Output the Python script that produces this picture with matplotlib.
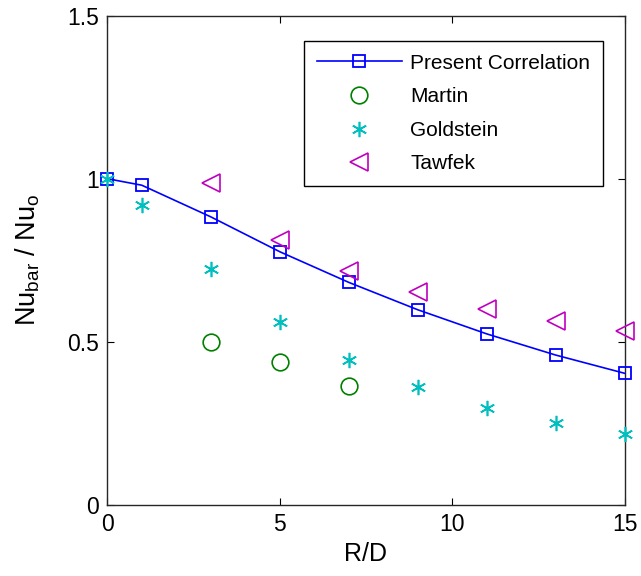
import matplotlib
matplotlib.use("Agg")
import matplotlib.pyplot as plt

plt.rcParams['font.family'] = ['Liberation Sans', 'DejaVu Sans']
plt.rcParams['mathtext.default'] = 'regular'

# Data
x_present = [0, 1, 3, 5, 7, 9, 11, 13, 15]
y_present = [1.0, 0.98, 0.883, 0.776, 0.682, 0.598, 0.524, 0.459, 0.403]

x_martin = [3, 5, 7]
y_martin = [0.498, 0.437, 0.364]

x_goldstein = [0, 1, 3, 5, 7, 9, 11, 13, 15]
y_goldstein = [1.0, 0.919, 0.723, 0.559, 0.444, 0.360, 0.296, 0.252, 0.216]

x_tawfek = [3, 5, 7, 9, 11, 13, 15]
y_tawfek = [0.986, 0.812, 0.717, 0.652, 0.601, 0.564, 0.534]

x_ticks = [0, 5, 10, 15]
y_ticks = [0, 0.5, 1, 1.5]
y_ticklabels = ['0', '0.5', '1', '1.5']

fig = plt.figure(figsize=(6.41, 5.76), dpi=100)
ax = fig.add_axes([107.3/641, 1-504.7/576, 517.4/641, 489/576])

ax.plot(x_present, y_present, color='#0000ff', lw=1.2, marker='s', ms=9,
        mfc='none', mec='#0000ff', mew=1.3, label='Present Correlation',
        clip_on=False, zorder=3)
ax.plot(x_martin, y_martin, ls='none', marker='o', ms=12, mfc='none',
        mec='#008000', mew=1.2, label='Martin', clip_on=False, zorder=3)
ax.plot(x_goldstein, y_goldstein, ls='none', marker=(6, 2, 0), ms=11,
        mec='#00bfbf', color='#00bfbf', mew=1.2, label='Goldstein',
        clip_on=False, zorder=4)
ax.plot(x_tawfek, y_tawfek, ls='none', marker='<', ms=13, mfc='none',
        mec='#bf00bf', mew=1.2, label='Tawfek', clip_on=False, zorder=3)

ax.set_xlim(0, 15)
ax.set_ylim(0, 1.5)
ax.set_xticks(x_ticks)
ax.set_yticks(y_ticks)
ax.set_yticklabels(y_ticklabels)
ax.tick_params(direction='in', length=5, width=0.8, labelsize=16.5,
               top=True, right=True, pad=6)
for s in ax.spines.values():
    s.set_linewidth(1.0)
    s.set_color('#262626')

ax.set_xlabel('R/D', fontsize=18, labelpad=4)
ax.set_ylabel(r'Nu$_{bar}$ / Nu$_{o}$', fontsize=19.5, labelpad=18)

leg = ax.legend(loc='upper right', bbox_to_anchor=(0.958, 0.948),
                fontsize=15, frameon=True, fancybox=False, edgecolor='black',
                framealpha=1, handlelength=4.1, labelspacing=0.7,
                borderpad=0.6, handletextpad=0.4, borderaxespad=0)
leg.get_frame().set_linewidth(1.0)

fig.savefig('out.png', dpi=100)
